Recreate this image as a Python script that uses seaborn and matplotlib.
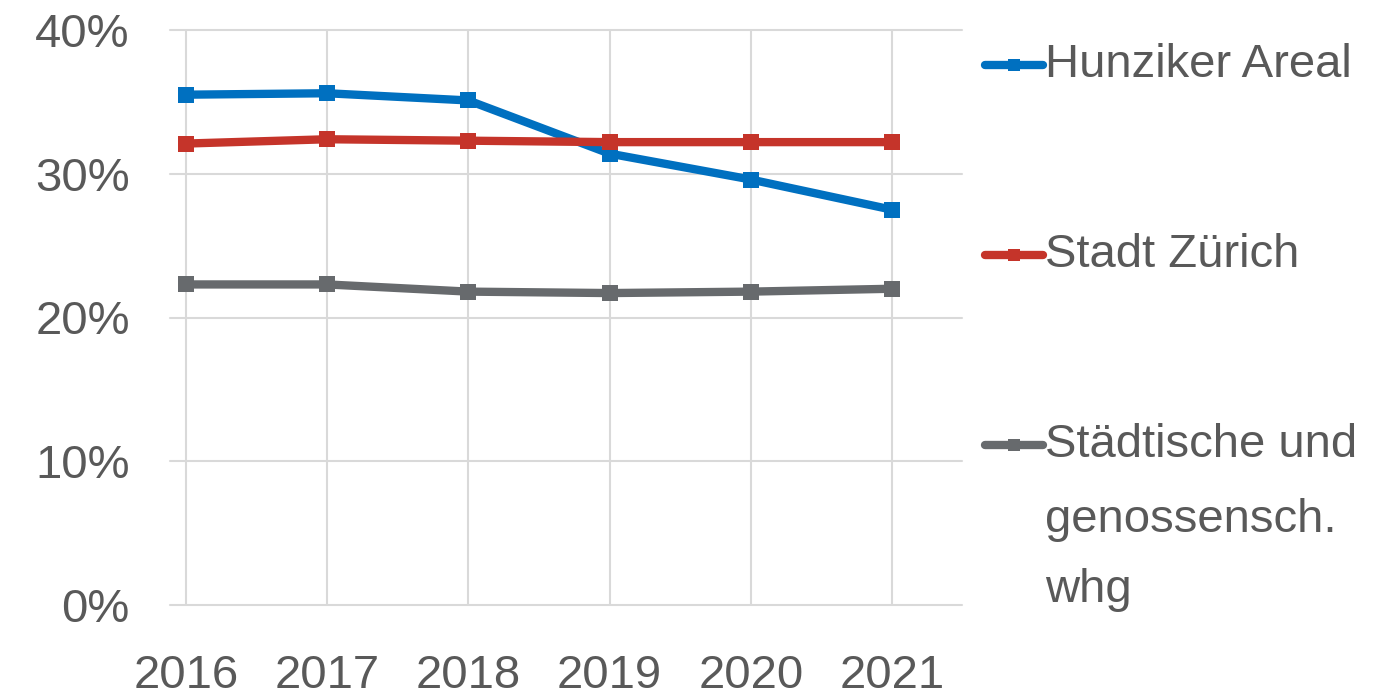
import pandas as pd
import matplotlib.pyplot as plt
import seaborn as sns
from matplotlib.lines import Line2D
from matplotlib.ticker import PercentFormatter

years = [2016, 2017, 2018, 2019, 2020, 2021]
hunziker = [0.355, 0.356, 0.351, 0.314, 0.296, 0.275]
stadt = [0.321, 0.324, 0.323, 0.322, 0.322, 0.322]
staedtisch = [0.223, 0.223, 0.218, 0.217, 0.218, 0.220]
series = ['Hunziker Areal', 'Stadt Zürich', 'Städtische und genossensch. whg']
colors = ['#0070C0', '#C5342A', '#676A6D']

df = pd.DataFrame({
    'Jahr': years * 3,
    'Anteil': hunziker + stadt + staedtisch,
    'Serie': [s for s in series for _ in years],
})

sns.set_style('white')
plt.rcParams['font.family'] = ['Liberation Sans', 'DejaVu Sans']
text_col = '#595959'
grid_col = '#D9D9D9'

fig = plt.figure(figsize=(13.88, 6.97), dpi=100)
ax = fig.add_axes([170 / 1388, 92 / 697, 792 / 1388, 575 / 697])

sns.lineplot(data=df, x='Jahr', y='Anteil', hue='Serie', palette=colors,
             marker='s', markersize=11, markeredgewidth=0, linewidth=6,
             legend=False, ax=ax, zorder=3)

ax.set_xlim(2016 - 0.113, 2021 + 0.496)
ax.set_ylim(0, 0.40)
ax.set_xticks(years)
ax.set_yticks([0, 0.1, 0.2, 0.3, 0.4])
ax.yaxis.set_major_formatter(PercentFormatter(1.0, decimals=0))
ax.grid(True, color=grid_col, linewidth=1.5)
for line in ax.get_ygridlines():
    line.set_clip_on(False)
for s in ax.spines.values():
    s.set_visible(False)
ax.tick_params(axis='x', direction='out', length=12, width=1.5, color=grid_col,
               labelsize=34, labelcolor=text_col, pad=23)
ax.tick_params(axis='y', length=0, labelsize=34, labelcolor=text_col, pad=29)
ax.set_xlabel('')
ax.set_ylabel('')

# legend drawn by hand to match the stacked layout on the right
H = 697
rows = [(65, series[0], colors[0]), (255, series[1], colors[1]), (445, 'Städtische und', colors[2])]
for y, label, c in rows:
    yf = 1 - y / H
    fig.add_artist(Line2D([985 / 1388, 1043 / 1388], [yf, yf], color=c, linewidth=6,
                          solid_capstyle='round', transform=fig.transFigure))
    fig.add_artist(Line2D([1014 / 1388], [yf], color=c, marker='s', markersize=9,
                          markeredgewidth=0, transform=fig.transFigure))
    fig.text(1045 / 1388, yf, label, fontsize=34, color=text_col, va='center', ha='left')
for y, label in [(520, 'genossensch.'), (590, 'whg')]:
    fig.text(1045 / 1388, 1 - y / H, label, fontsize=34, color=text_col, va='center', ha='left')

fig.savefig('out.png', dpi=100)
